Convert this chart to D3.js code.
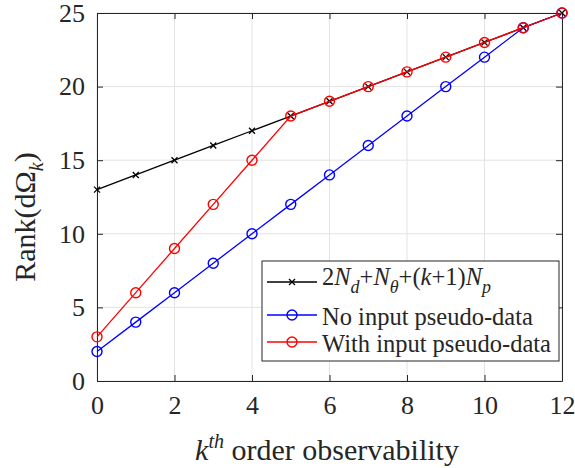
<!DOCTYPE html>
<html>
<head>
<meta charset="utf-8">
<script src="https://cdn.jsdelivr.net/npm/d3@7"></script>
<style>
  html, body { margin: 0; padding: 0; background: #fff; }
  svg { display: block; }
</style>
</head>
<body>
<svg id="chart" width="575" height="468"></svg>
<script>
// Observability order k
const orders = [0, 1, 2, 3, 4, 5, 6, 7, 8, 9, 10, 11, 12];
// Upper bound 2N_d + N_theta + (k+1)N_p
const upperBound = [13, 14, 15, 16, 17, 18, 19, 20, 21, 22, 23, 24, 25];
// Rank without input pseudo-data
const noPseudo = [2, 4, 6, 8, 10, 12, 14, 16, 18, 20, 22, 24, 25];
// Rank with input pseudo-data
const withPseudo = [3, 6, 9, 12, 15, 18, 19, 20, 21, 22, 23, 24, 25];
const xTicks = [0, 2, 4, 6, 8, 10, 12];
const yTicks = [0, 5, 10, 15, 20, 25];

const SERIF = "'Liberation Serif', 'Times New Roman', serif";
const INK = "#262626";

const svg = d3.select("#chart");
const m = { left: 97, top: 13, right: 562, bottom: 381 };

const x = d3.scaleLinear().domain([0, 12]).range([m.left, m.right]);
const y = d3.scaleLinear().domain([0, 25]).range([m.bottom, m.top]);

// grid
const grid = svg.append("g").attr("stroke", "#e3e3e3").attr("stroke-width", 1);
xTicks.forEach(t => grid.append("line").attr("x1", x(t)).attr("x2", x(t)).attr("y1", m.top).attr("y2", m.bottom));
yTicks.forEach(t => grid.append("line").attr("y1", y(t)).attr("y2", y(t)).attr("x1", m.left).attr("x2", m.right));

// axes (ticks inward, mirrored on top/right)
const tickLen = 6;
const ax = svg.append("g");
ax.append("g").attr("transform", `translate(0,${m.bottom})`)
  .call(d3.axisBottom(x).tickValues(xTicks).tickSizeInner(-tickLen).tickSizeOuter(0).tickPadding(15));
ax.append("g").attr("transform", `translate(0,${m.top})`)
  .call(d3.axisTop(x).tickValues(xTicks).tickSizeInner(-tickLen).tickSizeOuter(0).tickFormat(""));
ax.append("g").attr("transform", `translate(${m.left},0)`)
  .call(d3.axisLeft(y).tickValues(yTicks).tickSizeInner(-tickLen).tickSizeOuter(0).tickPadding(12));
ax.append("g").attr("transform", `translate(${m.right},0)`)
  .call(d3.axisRight(y).tickValues(yTicks).tickSizeInner(-tickLen).tickSizeOuter(0).tickFormat(""));
ax.selectAll(".domain").attr("stroke", INK).attr("stroke-width", 1);
ax.selectAll(".tick line").attr("stroke", INK);
ax.selectAll(".tick text").style("font-family", SERIF).style("font-size", "26px").attr("fill", INK);

// series
const line = d3.line().x((d, i) => x(orders[i])).y(d => y(d));
function drawSeries(vals, color, marker) {
  const g = svg.append("g");
  g.append("path").datum(vals).attr("d", line).attr("fill", "none").attr("stroke", color).attr("stroke-width", 1.3);
  vals.forEach((v, i) => drawMarker(g, x(orders[i]), y(v), color, marker));
}
function drawMarker(g, cx, cy, color, marker) {
  if (marker === "o") {
    g.append("circle").attr("cx", cx).attr("cy", cy).attr("r", 5).attr("fill", "none").attr("stroke", color).attr("stroke-width", 1.4);
  } else {
    const s = 3;
    g.append("path").attr("d", `M${cx - s},${cy - s}L${cx + s},${cy + s}M${cx - s},${cy + s}L${cx + s},${cy - s}`)
      .attr("stroke", color).attr("stroke-width", 1.3).attr("fill", "none");
  }
}
drawSeries(upperBound, "#000", "x");
drawSeries(noPseudo, "#0000ff", "o");
drawSeries(withPseudo, "#ff0000", "o");

function txt(sel) { return sel.style("font-family", SERIF).attr("fill", INK); }

// legend
const lg = svg.append("g");
lg.append("rect").attr("x", 262).attr("y", 261).attr("width", 297).attr("height", 100)
  .attr("fill", "#fff").attr("stroke", INK).attr("stroke-width", 1);
const rows = [
  { color: "#000", marker: "x", y: 282 },
  { color: "#0000ff", marker: "o", y: 315 },
  { color: "#ff0000", marker: "o", y: 342 }
];
rows.forEach(r => {
  lg.append("line").attr("x1", 267).attr("x2", 317).attr("y1", r.y).attr("y2", r.y).attr("stroke", r.color).attr("stroke-width", 1.3);
  drawMarker(lg, 292, r.y, r.color, r.marker);
});
const t1 = txt(lg.append("text")).attr("x", 322).attr("y", 285).style("font-size", "24.5px");
t1.append("tspan").text("2");
t1.append("tspan").attr("font-style", "italic").text("N");
t1.append("tspan").attr("font-style", "italic").style("font-size", "18px").attr("dy", 8).text("d");
t1.append("tspan").attr("dy", -8).text("+");
t1.append("tspan").attr("font-style", "italic").text("N");
t1.append("tspan").attr("font-style", "italic").style("font-size", "18px").attr("dy", 8).text("θ");
t1.append("tspan").attr("dy", -8).text("+(");
t1.append("tspan").attr("font-style", "italic").text("k");
t1.append("tspan").text("+1)");
t1.append("tspan").attr("font-style", "italic").text("N");
t1.append("tspan").attr("font-style", "italic").style("font-size", "18px").attr("dy", 8).text("p");
txt(lg.append("text")).attr("x", 322).attr("y", 325).style("font-size", "24.5px").text("No input pseudo-data");
txt(lg.append("text")).attr("x", 322).attr("y", 352).style("font-size", "24.5px").text("With input pseudo-data");

// axis titles
const xl = txt(svg.append("text")).attr("x", 327).attr("y", 460).attr("text-anchor", "middle").style("font-size", "30px");
xl.append("tspan").attr("font-style", "italic").text("k");
xl.append("tspan").attr("font-style", "italic").style("font-size", "20px").attr("dy", -12).text("th");
xl.append("tspan").attr("dy", 12).text(" order observability");

const yl = txt(svg.append("text")).attr("transform", "translate(35,217) rotate(-90)").attr("text-anchor", "middle").style("font-size", "30px");
yl.append("tspan").text("Rank(dΩ");
yl.append("tspan").attr("font-style", "italic").style("font-size", "20px").attr("dy", 8).text("k");
yl.append("tspan").attr("dy", -8).text(")");
</script>
</body>
</html>
